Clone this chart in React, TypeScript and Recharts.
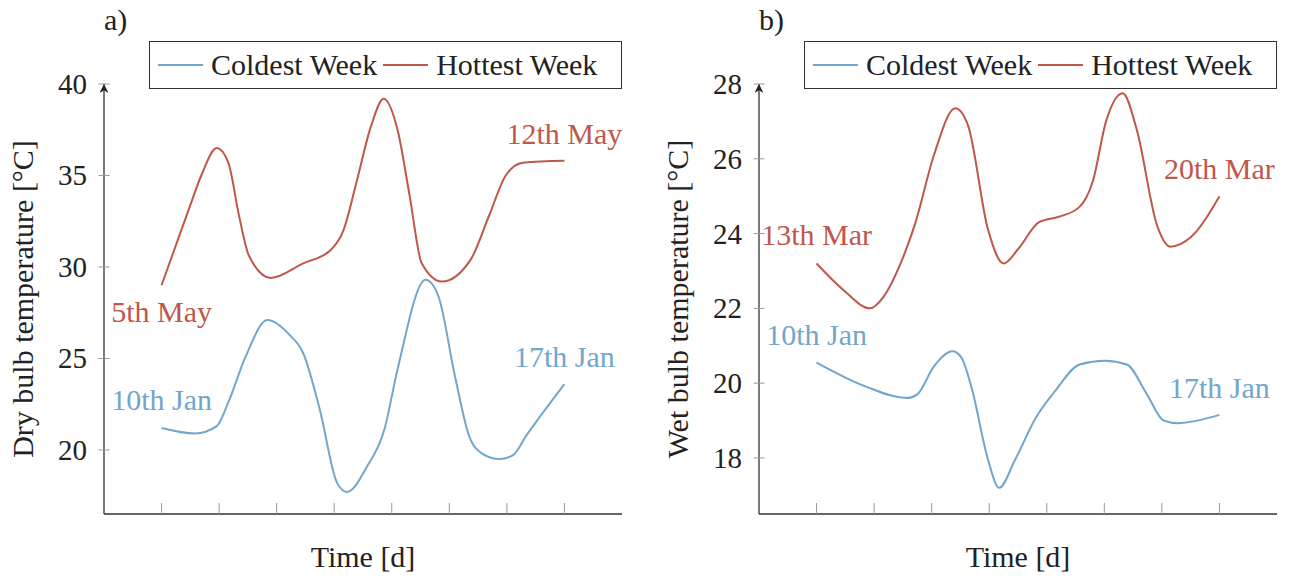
import { LineChart, Line, XAxis, YAxis, Legend, LabelList } from "recharts";

const FONT = "'Liberation Serif', 'DejaVu Serif', serif";
const BLUE = "#72a6cc";
const RED = "#c0574c";
const INK = "#222";
const TICK = "#9a9a9a";
const TEXT_SIZE = 30;

// dry bulb, coldest week (10th - 17th Jan)
const dryColdDay = [1, 1.58, 1.96, 2.16, 2.46, 2.84, 3.22, 3.46, 3.75, 4.05, 4.22, 4.57, 4.87, 5.1, 5.59, 5.81, 6.1, 6.34, 6.57, 6.87, 7.1, 7.34, 8];
const dryColdTemp = [21.2, 20.9, 21.3, 22.6, 25.1, 27.1, 26.3, 25.3, 22.2, 18.2, 17.7, 19.1, 21.1, 24.4, 29.3, 28.4, 24.0, 20.8, 19.8, 19.5, 19.7, 20.8, 23.6];

// dry bulb, hottest week (5th - 12th May)
const dryHotDay = [1, 1.49, 1.69, 1.96, 2.16, 2.34, 2.52, 2.9, 3.46, 3.93, 4.16, 4.4, 4.63, 4.86, 5.1, 5.31, 5.52, 5.87, 6.37, 6.69, 6.98, 7.28, 8];
const dryHotTemp = [29.0, 33.3, 35.0, 36.5, 35.7, 32.9, 30.6, 29.4, 30.2, 30.9, 32.0, 34.8, 37.6, 39.2, 37.5, 33.9, 30.2, 29.2, 30.4, 32.8, 35.0, 35.7, 35.8];

// wet bulb, coldest week (10th - 17th Jan)
const wetColdDay = [1, 1.87, 2.57, 2.75, 3.04, 3.36, 3.51, 3.69, 3.98, 4.17, 4.45, 4.8, 5.15, 5.57, 6.01, 6.39, 6.74, 7.03, 7.27, 8];
const wetColdTemp = [20.55, 19.9, 19.6, 19.7, 20.45, 20.85, 20.7, 19.9, 17.95, 17.2, 17.95, 19.05, 19.8, 20.5, 20.6, 20.5, 19.7, 19.0, 18.93, 19.15];

// wet bulb, hottest week (13th - 20th Mar)
const wetHotDay = [1, 1.46, 1.93, 2.16, 2.46, 2.72, 3.04, 3.41, 3.63, 3.98, 4.25, 4.51, 4.86, 5.21, 5.56, 5.8, 6.03, 6.32, 6.56, 6.92, 7.15, 7.5, 8];
const wetHotTemp = [23.2, 22.5, 22.0, 22.3, 23.2, 24.3, 26.1, 27.35, 26.9, 24.1, 23.2, 23.6, 24.3, 24.45, 24.7, 25.4, 27.0, 27.75, 26.8, 24.2, 23.65, 23.9, 25.0];

const seriesNames = ["Coldest Week", "Hottest Week"];
const dryColdDates = ["10th Jan", "17th Jan"];
const dryHotDates = ["5th May", "12th May"];
const wetColdDates = ["10th Jan", "17th Jan"];
const wetHotDates = ["13th Mar", "20th Mar"];

const dryTicks = [20, 25, 30, 35, 40];
const wetTicks = [18, 20, 22, 24, 26, 28];
const dayTicks = [1, 2, 3, 4, 5, 6, 7, 8];

const zip = (days: number[], temps: number[]) =>
  days.map((day, i) => ({ day, temp: temps[i] }));

const YTick = ({ x, y, payload }: any) => (
  <g>
    <line x1={x - 5.5} x2={x + 5.5} y1={y} y2={y} stroke={TICK} strokeWidth={1} />
    <text
      x={x - 17}
      y={y}
      textAnchor="end"
      dominantBaseline="central"
      fontSize={29}
      fontFamily={FONT}
      fill={INK}
    >
      {payload.value}
    </text>
  </g>
);

const XTick = ({ x, y }: any) => (
  <line x1={x} x2={x} y1={y - 11} y2={y} stroke={TICK} strokeWidth={1} />
);

const LegendBox = ({ payload }: any) => (
  <div
    style={{
      display: "flex",
      alignItems: "center",
      boxSizing: "border-box",
      width: 473,
      height: 48,
      border: "1.3px solid #333",
      background: "#fff",
      paddingLeft: 8,
      fontFamily: FONT,
      fontSize: TEXT_SIZE,
      color: INK,
      whiteSpace: "nowrap",
    }}
  >
    {(payload || []).map((p: any, i: number) => (
      <div
        key={p.value}
        style={{ display: "flex", alignItems: "center", marginLeft: i ? 6 : 0 }}
      >
        <span
          style={{
            display: "inline-block",
            width: 45,
            height: 2,
            background: p.color,
            marginRight: 8,
          }}
        />
        <span>{p.value}</span>
      </div>
    ))}
  </div>
);

// date written above (dy < 0) or below (dy > 0) the first / last point of a series
const endLabels =
  (dates: string[], color: string, dyStart: number, dyEnd: number, last: number) =>
  (props: any) => {
    const { x, y, index } = props;
    if (index !== 0 && index !== last) return null;
    const first = index === 0;
    return (
      <text
        x={x}
        y={y + (first ? dyStart : dyEnd)}
        textAnchor="middle"
        fontSize={TEXT_SIZE}
        fontFamily={FONT}
        fill={color}
      >
        {first ? dates[0] : dates[1]}
      </text>
    );
  };

type PanelProps = {
  id: string;
  tag: string;
  yLabel: string;
  left: number;
  axisWidth: number;
  rightMargin: number;
  yDomain: [number, number];
  yTicks: number[];
  cold: { day: number; temp: number }[];
  hot: { day: number; temp: number }[];
  coldDates: string[];
  hotDates: string[];
  hotStartBelow: boolean;
};

function Panel(p: PanelProps) {
  const W = 645;
  const H = 576;
  const plotW = W - p.axisWidth - p.rightMargin;
  const midX = p.axisWidth + plotW / 2;

  return (
    <div style={{ position: "absolute", left: p.left, top: 0, width: W, height: H }}>
      <LineChart
        width={W}
        height={H}
        margin={{ top: 84, right: p.rightMargin, bottom: 0, left: 0 }}
      >
        <defs>
          <marker
            id={`arrow-${p.id}`}
            viewBox="0 0 10 10"
            refX={10}
            refY={5}
            markerWidth={9}
            markerHeight={9}
            markerUnits="userSpaceOnUse"
            orient="auto-start-reverse"
          >
            <path d="M0,0 L10,5 L0,10 L3,5 z" fill={INK} />
          </marker>
        </defs>

        <XAxis
          type="number"
          dataKey="day"
          domain={[0, 9]}
          ticks={dayTicks}
          height={62}
          tickSize={0}
          tickMargin={0}
          tickLine={false}
          tick={<XTick />}
          axisLine={{ stroke: "#333", strokeWidth: 1.3 }}
        />
        <YAxis
          type="number"
          domain={p.yDomain}
          ticks={p.yTicks}
          width={p.axisWidth}
          tickSize={0}
          tickMargin={0}
          tickLine={false}
          tick={<YTick />}
          axisLine={{ stroke: "#333", strokeWidth: 1.3, markerStart: `url(#arrow-${p.id})` }}
        />

        <Legend
          layout="vertical"
          align="center"
          verticalAlign="middle"
          content={<LegendBox />}
          wrapperStyle={{ top: 41, left: p.axisWidth + 45, width: 473, height: 48 }}
        />

        <Line
          data={p.cold}
          dataKey="temp"
          name={seriesNames[0]}
          type="monotone"
          stroke={BLUE}
          strokeWidth={2}
          dot={false}
          activeDot={false}
          isAnimationActive={false}
        >
          <LabelList
            dataKey="temp"
            content={endLabels(p.coldDates, BLUE, -18, -17, p.cold.length - 1)}
          />
        </Line>
        <Line
          data={p.hot}
          dataKey="temp"
          name={seriesNames[1]}
          type="monotone"
          stroke={RED}
          strokeWidth={2}
          dot={false}
          activeDot={false}
          isAnimationActive={false}
        >
          <LabelList
            dataKey="temp"
            content={endLabels(
              p.hotDates,
              RED,
              p.hotStartBelow ? 37 : -18,
              -17,
              p.hot.length - 1
            )}
          />
        </Line>

        <text x={p.axisWidth} y={30} fontSize={TEXT_SIZE} fontFamily={FONT} fill={INK}>
          {p.tag}
        </text>
        <text
          x={p.axisWidth - 71}
          y={299}
          transform={`rotate(-90 ${p.axisWidth - 71} 299)`}
          textAnchor="middle"
          fontSize={TEXT_SIZE}
          fontFamily={FONT}
          fill={INK}
        >
          {p.yLabel}
        </text>
        <text x={midX} y={567} textAnchor="middle" fontSize={TEXT_SIZE} fontFamily={FONT} fill={INK}>
          Time [d]
        </text>
      </LineChart>
    </div>
  );
}

export default function App() {
  return (
    <div style={{ position: "absolute", left: 0, top: 0, width: 1290, height: 576, background: "#fff" }}>
      <Panel
        id="dry"
        tag="a)"
        yLabel="Dry bulb temperature [°C]"
        left={0}
        axisWidth={104}
        rightMargin={23}
        yDomain={[16.5, 40]}
        yTicks={dryTicks}
        cold={zip(dryColdDay, dryColdTemp)}
        hot={zip(dryHotDay, dryHotTemp)}
        coldDates={dryColdDates}
        hotDates={dryHotDates}
        hotStartBelow
      />
      <Panel
        id="wet"
        tag="b)"
        yLabel="Wet bulb temperature [°C]"
        left={645}
        axisWidth={114}
        rightMargin={13}
        yDomain={[16.5, 28]}
        yTicks={wetTicks}
        cold={zip(wetColdDay, wetColdTemp)}
        hot={zip(wetHotDay, wetHotTemp)}
        coldDates={wetColdDates}
        hotDates={wetHotDates}
        hotStartBelow={false}
      />
    </div>
  );
}
